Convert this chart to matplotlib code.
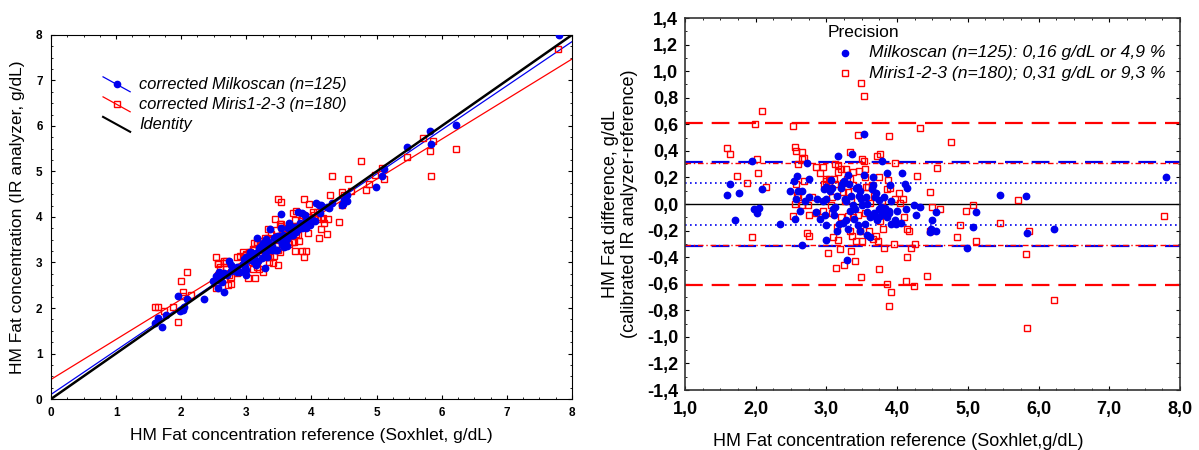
import numpy as np
import matplotlib
matplotlib.use('Agg')
import matplotlib.pyplot as plt
from matplotlib.ticker import MultipleLocator, FuncFormatter

plt.rcParams['font.family'] = ['Liberation Sans', 'DejaVu Sans']

# Milkoscan: reference fat (g/dL) and difference analyzer - reference
mk_ref = [1.60, 1.64, 1.77, 1.71, 1.95, 1.98, 2.05, 2.02, 2.09, 2.35, 2.49, 2.54, 2.58, 2.56,
          2.57, 2.66, 2.62, 2.66, 2.73, 2.76, 2.76, 2.86, 2.91, 2.95, 2.97, 2.99, 2.98, 3.00,
          3.00, 3.06, 3.08, 3.09, 3.11, 3.15, 3.17, 3.18, 3.22, 3.24, 3.25, 3.26, 3.28, 3.29,
          3.31, 3.32, 3.33, 3.36, 3.37, 3.39, 3.42, 3.44, 3.46, 3.47, 3.49, 3.51, 3.53, 3.53,
          3.55, 3.56, 3.57, 3.58, 3.62, 3.64, 3.66, 3.68, 3.69, 3.70, 3.72, 3.74, 3.76, 3.77,
          3.79, 3.79, 3.81, 3.83, 3.85, 3.88, 3.89, 3.90, 3.91, 3.97, 3.98, 4.06, 4.07, 4.11,
          4.14, 4.13, 4.24, 4.27, 4.32, 4.47, 4.48, 4.50, 4.55, 4.55, 4.99, 5.08, 5.11, 5.46,
          5.82, 5.83, 6.22, 7.80,
          3.05, 3.12, 3.20, 3.35, 3.40, 3.48, 3.58, 3.62, 3.70, 3.75, 3.82, 3.86, 3.92, 2.60,
          2.70, 2.85, 3.00, 3.28, 3.44, 3.66, 4.00, 3.30, 3.15]
mk_diff = [0.07, 0.15, 0.08, -0.12, 0.32, -0.04, -0.03, -0.07, 0.11, -0.15, 0.10, 0.17, 0.21, -0.11,
           0.04, -0.31, -0.05, 0.10, 0.31, 0.19, 0.05, 0.04, -0.11, 0.02, 0.11, 0.13, -0.08, -0.16,
           -0.27, 0.18, 0.12, -0.04, -0.08, 0.06, 0.36, -0.15, 0.15, -0.14, 0.17, 0.04, 0.02, -0.42,
           -0.19, 0.15, -0.05, 0.38, -0.01, -0.11, 0.12, 0.13, 0.06, -0.20, 0.04, -0.01, 0.53, 0.22,
           -0.15, 0.05, -0.06, -0.23, -0.25, 0.11, 0.20, -0.07, 0.05, -0.10, -0.12, 0.03, -0.09, -0.02,
           0.32, -0.06, -0.06, -0.03, 0.23, -0.05, -0.07, 0.14, -0.15, -0.12, -0.15, -0.14, 0.23, 0.15,
           0.12, -0.04, -0.01, -0.08, -0.02, -0.21, -0.19, -0.12, -0.06, -0.20, -0.33, -0.17, -0.06, 0.07,
           0.06, -0.22, -0.19, 0.20,
           0.10, -0.02, 0.12, 0.06, -0.04, 0.10, 0.00, -0.10, 0.08, -0.04, 0.05, -0.10, 0.02, 0.10,
           0.02, -0.06, 0.04, -0.12, -0.16, 0.14, -0.05, 0.22, -0.20]

# Miris 1-2-3: reference fat (g/dL) and difference analyzer - reference
mr_ref = [1.60, 1.64, 1.73, 1.87, 1.95, 1.99, 2.02, 2.03, 2.09, 2.15, 2.53, 2.53, 2.56, 2.57,
          2.57, 2.59, 2.60, 2.65, 2.65, 2.69, 2.69, 2.65, 2.72, 2.74, 2.76, 2.76, 2.85, 2.85,
          2.91, 2.95, 2.97, 2.99, 3.00, 3.02, 3.04, 3.05, 3.06, 3.08, 3.08, 3.10, 3.11, 3.12,
          3.14, 3.15, 3.16, 3.17, 3.17, 3.19, 3.21, 3.23, 3.24, 3.25, 3.28, 3.29, 3.30, 3.31,
          3.33, 3.34, 3.34, 3.35, 3.36, 3.37, 3.38, 3.41, 3.42, 3.44, 3.46, 3.48, 3.49, 3.51,
          3.51, 3.53, 3.54, 3.55, 3.56, 3.59, 3.62, 3.65, 3.66, 3.70, 3.72, 3.73, 3.75, 3.76,
          3.76, 3.78, 3.80, 3.81, 3.85, 3.86, 3.87, 3.88, 3.89, 3.91, 3.97, 3.97, 4.04, 4.08,
          4.12, 4.14, 4.14, 4.17, 4.19, 4.24, 4.26, 4.28, 4.32, 4.42, 4.47, 4.47, 4.50, 4.56,
          4.61, 4.76, 4.84, 4.89, 4.97, 5.08, 5.12, 5.46, 5.71, 5.82, 5.84, 5.86, 6.22, 7.78,
          3.49, 3.53,
          2.60, 2.80, 2.95, 3.05, 3.12, 3.20, 3.26, 3.38, 3.45, 3.55, 3.60, 3.68, 3.74, 3.80,
          3.90, 3.95, 4.02, 4.10, 3.35, 2.55]
mr_diff = [0.42, 0.38, 0.21, 0.16, -0.25, 0.60, 0.34, 0.23, 0.70, 0.13, 0.59, -0.09, 0.43, 0.40,
           0.15, 0.07, 0.05, 0.39, 0.34, 0.35, 0.17, -0.01, -0.22, -0.01, -0.24, -0.08, 0.28, -0.07,
           0.23, 0.28, 0.15, 0.17, 0.19, -0.37, 0.19, 0.18, -0.01, 0.05, -0.07, -0.25, 0.19, 0.15,
           -0.48, -0.17, 0.29, 0.24, -0.27, -0.34, 0.26, 0.16, 0.09, -0.46, 0.26, 0.19, 0.09, -0.09,
           -0.20, 0.39, 0.19, 0.03, -0.24, -0.10, 0.14, -0.43, -0.28, 0.52, 0.25, -0.20, -0.55, -0.28,
           0.34, 0.32, 0.26, -0.07, 0.13, 0.13, 0.01, 0.14, -0.26, -0.24, 0.36, -0.28, -0.49, 0.38,
           -0.13, 0.02, -0.19, -0.33, -0.60, 0.11, 0.18, 0.51, -0.77, -0.66, 0.31, 0.04, 0.01, 0.04,
           -0.58, -0.19, -0.40, -0.20, -0.33, -0.62, -0.30, 0.21, 0.57, -0.54, 0.09, -0.20, -0.02, 0.27,
           -0.04, 0.47, -0.25, -0.16, -0.05, -0.01, -0.28, -0.14, 0.03, -0.38, -0.93, -0.20, -0.72, -0.09,
           0.91, 0.81,
           0.30, 0.05, -0.05, 0.12, 0.30, -0.10, 0.02, 0.24, -0.08, 0.20, -0.20, 0.06, 0.20, -0.05,
           0.12, -0.30, 0.08, -0.10, -0.35, 0.00]

# regression lines (intercept, slope) of analyzer vs reference
mk_fit = (0.10, 0.969)
mr_fit = (0.43, 0.880)

# precision limits (1x and 2x precision)
mk_prec = [0.155, 0.315]
mr_prec = [0.305, 0.61]

BLUE = '#0000ee'
RED = '#ff0000'

mk_ref = np.array(mk_ref)
mr_ref = np.array(mr_ref)
mk_val = mk_ref + np.array(mk_diff)
mr_val = mr_ref + np.array(mr_diff)

fig = plt.figure(figsize=(11.99, 4.5), dpi=100)
ax1 = fig.add_axes([0.0425, 0.1133, 0.4345, 0.809])
ax2 = fig.add_axes([0.5713, 0.1333, 0.4128, 0.8267])

# ---- left: analyzer vs reference ----
xx = np.array([0, 8])
ax1.plot(xx, mr_fit[0] + mr_fit[1] * xx, color=RED, lw=0.9, zorder=2)
ax1.plot(xx, mk_fit[0] + mk_fit[1] * xx, color=BLUE, lw=0.9, zorder=2)
ax1.plot(mr_ref, mr_val, 's', ms=5, mfc='none', mec=RED, mew=1.0, zorder=3)
ax1.plot(mk_ref, mk_val, 'o', ms=4.6, color=BLUE, mec=BLUE, zorder=4)
ax1.plot(xx, xx, color='black', lw=1.8, zorder=5)
ax1.set_xlim(0, 8)
ax1.set_ylim(0, 8)
ax1.xaxis.set_major_locator(MultipleLocator(1))
ax1.yaxis.set_major_locator(MultipleLocator(1))
ax1.xaxis.set_minor_locator(MultipleLocator(0.25))
ax1.yaxis.set_minor_locator(MultipleLocator(0.25))
ax1.tick_params(which='both', direction='in', top=True, right=True, labelsize=8.5, pad=6)
ax1.tick_params(which='major', length=3)
ax1.tick_params(which='minor', length=1.5)
for lab in ax1.get_xticklabels() + ax1.get_yticklabels():
    lab.set_fontweight('bold')
ax1.set_xlabel('HM Fat concentration reference (Soxhlet, g/dL)', fontsize=12.5, labelpad=6)
ax1.set_ylabel('HM Fat concentration (IR analyzer, g/dL)', fontsize=12.5, labelpad=8)

# legend drawn by hand with slanted handles
leg_items = [('corrected Milkoscan (n=125)', BLUE, 'o', 0.885),
             ('corrected Miris1-2-3 (n=180)', RED, 's', 0.830),
             ('Identity', 'black', None, 0.775)]
for label, col, mk, y0 in leg_items:
    lw = 1.5 if mk is None else 0.9
    ax1.plot([0.100, 0.152], [y0, y0 - 0.041], color=col, lw=lw, transform=ax1.transAxes, clip_on=False)
    if mk == 'o':
        ax1.plot([0.126], [y0 - 0.0205], 'o', ms=4.5, color=col, transform=ax1.transAxes)
    elif mk == 's':
        ax1.plot([0.126], [y0 - 0.0205], 's', ms=4.5, mfc='none', mec=col, transform=ax1.transAxes)
    ax1.text(0.169, y0 - 0.0205, label, style='italic', fontsize=11.8, va='center', ha='left',
             transform=ax1.transAxes)

# ---- right: difference vs reference ----
ax2.axhline(0, color='black', lw=1.0, zorder=2)
for s in (1, -1):
    ax2.axhline(s * mr_prec[1], color=RED, lw=1.6, dashes=(8, 4), zorder=2)
    ax2.axhline(s * mk_prec[1], color=BLUE, lw=1.6, dashes=(8, 4), zorder=2)
    ax2.axhline(s * mr_prec[0], color=RED, lw=1.0, dashes=(4, 2, 1, 2), zorder=2)
    ax2.axhline(s * mk_prec[0], color=BLUE, lw=1.2, dashes=(1, 2), zorder=2)
ax2.plot(mr_ref, mr_diff, 's', ms=5, mfc='none', mec=RED, mew=1.0, zorder=3)
ax2.plot(mk_ref, mk_diff, 'o', ms=4.6, color=BLUE, mec=BLUE, zorder=4)
ax2.set_xlim(1, 8)
ax2.set_ylim(-1.4, 1.4)
ax2.xaxis.set_major_locator(MultipleLocator(1))
ax2.xaxis.set_minor_locator(MultipleLocator(0.25))
ax2.yaxis.set_major_locator(MultipleLocator(0.2))
ax2.yaxis.set_minor_locator(MultipleLocator(0.1))
comma = FuncFormatter(lambda v, p: ('%.1f' % v).replace('.', ',').replace('-0,0', '0,0'))
ax2.xaxis.set_major_formatter(comma)
ax2.yaxis.set_major_formatter(comma)
ax2.tick_params(which='both', direction='in', top=True, right=True, labelsize=13, pad=5)
ax2.tick_params(axis='x', pad=8)
ax2.tick_params(which='major', length=3)
ax2.tick_params(which='minor', length=1.5)
for lab in ax2.get_xticklabels() + ax2.get_yticklabels():
    lab.set_fontweight('bold')
for sp in ax2.spines.values():
    sp.set_color('#333333')
    sp.set_linewidth(1.2)
ax2.set_xlabel('HM Fat concentration reference (Soxhlet,g/dL)', fontsize=13, labelpad=4)
ax2.xaxis.set_label_coords(0.43, -0.115)
ax2.set_ylabel('HM Fat difference, g/dL\n(calibrated IR analyzer-reference)', fontsize=13,
               labelpad=6, linespacing=1.2)

ax2.text(0.289, 0.960, 'Precision', fontsize=12.5, va='center', ha='left', transform=ax2.transAxes)
ax2.plot([0.323], [0.906], 'o', ms=4.5, color=BLUE, transform=ax2.transAxes)
ax2.plot([0.323], [0.852], 's', ms=4.5, mfc='none', mec=RED, transform=ax2.transAxes)
ax2.text(0.372, 0.906, 'Milkoscan (n=125): 0,16 g/dL or 4,9 %', style='italic', fontsize=12.6,
         va='center', ha='left', transform=ax2.transAxes)
ax2.text(0.372, 0.852, 'Miris1-2-3 (n=180); 0,31 g/dL or 9,3 %', style='italic', fontsize=12.6,
         va='center', ha='left', transform=ax2.transAxes)

fig.savefig('out.png', dpi=100)
